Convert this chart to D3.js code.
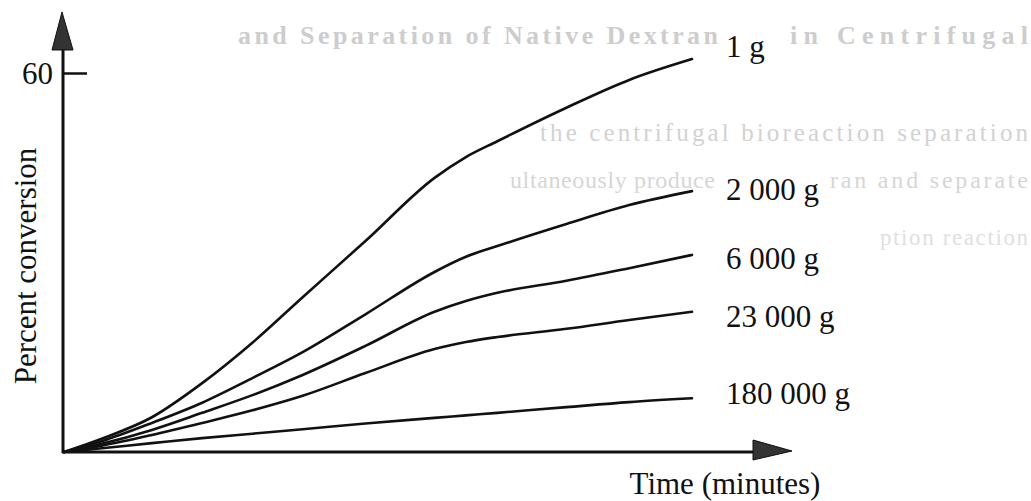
<!DOCTYPE html>
<html>
<head>
  <meta charset="utf-8">
  <title>Percent conversion vs time</title>
  <script src="https://d3js.org/d3.v7.min.js"></script>
  <style>
    body { margin: 0; background: #fff; }
    svg { display: block; }
    text { font-family: "Liberation Serif", "Times New Roman", serif; fill: #111; }
  </style>
</head>
<body>
<svg id="chart"></svg>
<script>
  // data (time in arbitrary units, 0..100 = end of curves)
  const times = [0, 6, 14, 22, 30, 38, 48, 59, 64, 69, 80, 90, 100];
  const labels = ["1 g", "2 000 g", "6 000 g", "23 000 g", "180 000 g"];
  const g1 = [0, 2.1, 5.5, 10.9, 17.3, 24.5, 33.4, 43.4, 46.7, 49.2, 54.5, 58.9, 62.2];
  const g2000 = [0, 1.7, 4.6, 7.8, 11.7, 15.8, 21.8, 28.5, 30.9, 32.6, 36.1, 39.1, 41.3];
  const g6000 = [0, 1.3, 3.5, 6.2, 9.0, 12.2, 16.8, 22.2, 23.9, 25.2, 27.1, 29.1, 31.2];
  const g23000 = [0, 1.0, 2.7, 4.6, 6.6, 8.9, 12.5, 16.3, 17.4, 18.2, 19.5, 20.9, 22.2];
  const g180000 = [0, 0.6, 1.4, 2.2, 2.9, 3.6, 4.5, 5.4, 5.8, 6.2, 7.1, 7.9, 8.5];
  const yTicks = [60];
  const yTitle = "Percent conversion";
  const xTitle = "Time (minutes)";

  // faint text from the facing page showing through the scan
  const ghostLines = [
    "and  Separation  of  Native  Dextran",
    "in  Centrifugal",
    "the centrifugal bioreaction separation",
    "ultaneously produce",
    "ran and separate",
    "ption reaction"
  ];

  const series = [g1, g2000, g6000, g23000, g180000];
  const labelDy = [-2, 9, 14, 15, 6];

  const width = 1031, height = 501;
  const svg = d3.select("#chart").attr("width", width).attr("height", height);

  const x = d3.scaleLinear().domain([0, 100]).range([64, 692]);
  const y = d3.scaleLinear().domain([0, 60]).range([452, 73]);

  // ghost text
  const ghost = svg.append("g");
  const ghostText = (i, gx, gy, len, size, bold, col) =>
    ghost.append("text").attr("x", gx).attr("y", gy)
      .attr("textLength", len).attr("lengthAdjust", "spacing")
      .style("font-size", size + "px").style("font-weight", bold ? "bold" : "normal")
      .style("fill", col)
      .text(ghostLines[i]);
  ghostText(0, 238, 44, 480, 26, true, "#cdcdcd");
  ghostText(1, 790, 44, 238, 26, true, "#cdcdcd");
  ghostText(2, 540, 141, 488, 25, false, "#d2d2d2");
  ghostText(3, 510, 188, 205, 24, false, "#d6d6d6");
  ghostText(4, 830, 188, 198, 24, false, "#d6d6d6");
  ghostText(5, 880, 245, 148, 23, false, "#e0e0e0");

  // y axis with the single 60 tick
  const yAxis = d3.axisLeft(y).tickValues(yTicks).tickSizeInner(-24).tickSizeOuter(0).tickPadding(10);
  const ya = svg.append("g").attr("transform", "translate(63,0)").call(yAxis);
  ya.select(".domain").remove();
  ya.selectAll(".tick line").attr("stroke", "#111").attr("stroke-width", 2.5);
  ya.selectAll(".tick text").style("font-size", "31px").attr("dy", "0.34em")
    .style("font-family", "'Liberation Serif', serif").attr("fill", "#111");

  // axis lines with arrowheads
  const axes = svg.append("g");
  axes.append("line").attr("x1", 63).attr("y1", y(0) + 1).attr("x2", 63).attr("y2", 48)
    .attr("stroke", "#111").attr("stroke-width", 3);
  axes.append("path").attr("d", "M62,12 L52,50 L73,50 Z").attr("fill", "#333").attr("stroke", "#111").attr("stroke-width", 1);
  axes.append("line").attr("x1", 62).attr("y1", y(0)).attr("x2", 756).attr("y2", y(0))
    .attr("stroke", "#111").attr("stroke-width", 3);
  axes.append("path").attr("d", `M792,${y(0) - 1} L753,${y(0) - 12} L753,${y(0) + 8} Z`)
    .attr("fill", "#333").attr("stroke", "#111").attr("stroke-width", 1);

  // curves
  const line = d3.line()
    .x((d, i) => x(times[i]))
    .y(d => y(d))
    .curve(d3.curveMonotoneX);

  svg.append("g").selectAll("path").data(series).join("path")
    .attr("d", line)
    .attr("fill", "none")
    .attr("stroke", "#111")
    .attr("stroke-width", 2.6)
    .attr("stroke-linecap", "round");

  // curve labels
  svg.append("g").selectAll("text").data(series).join("text")
    .attr("x", 726)
    .attr("y", (d, i) => y(d[d.length - 1]) + labelDy[i])
    .style("font-size", "31px")
    .text((d, i) => labels[i]);

  // axis titles
  svg.append("text")
    .attr("transform", "translate(36,266) rotate(-90)")
    .attr("text-anchor", "middle")
    .style("font-size", "31px")
    .text(yTitle);
  svg.append("text")
    .attr("x", 725).attr("y", 494)
    .attr("text-anchor", "middle")
    .style("font-size", "31px")
    .text(xTitle);
</script>
</body>
</html>
